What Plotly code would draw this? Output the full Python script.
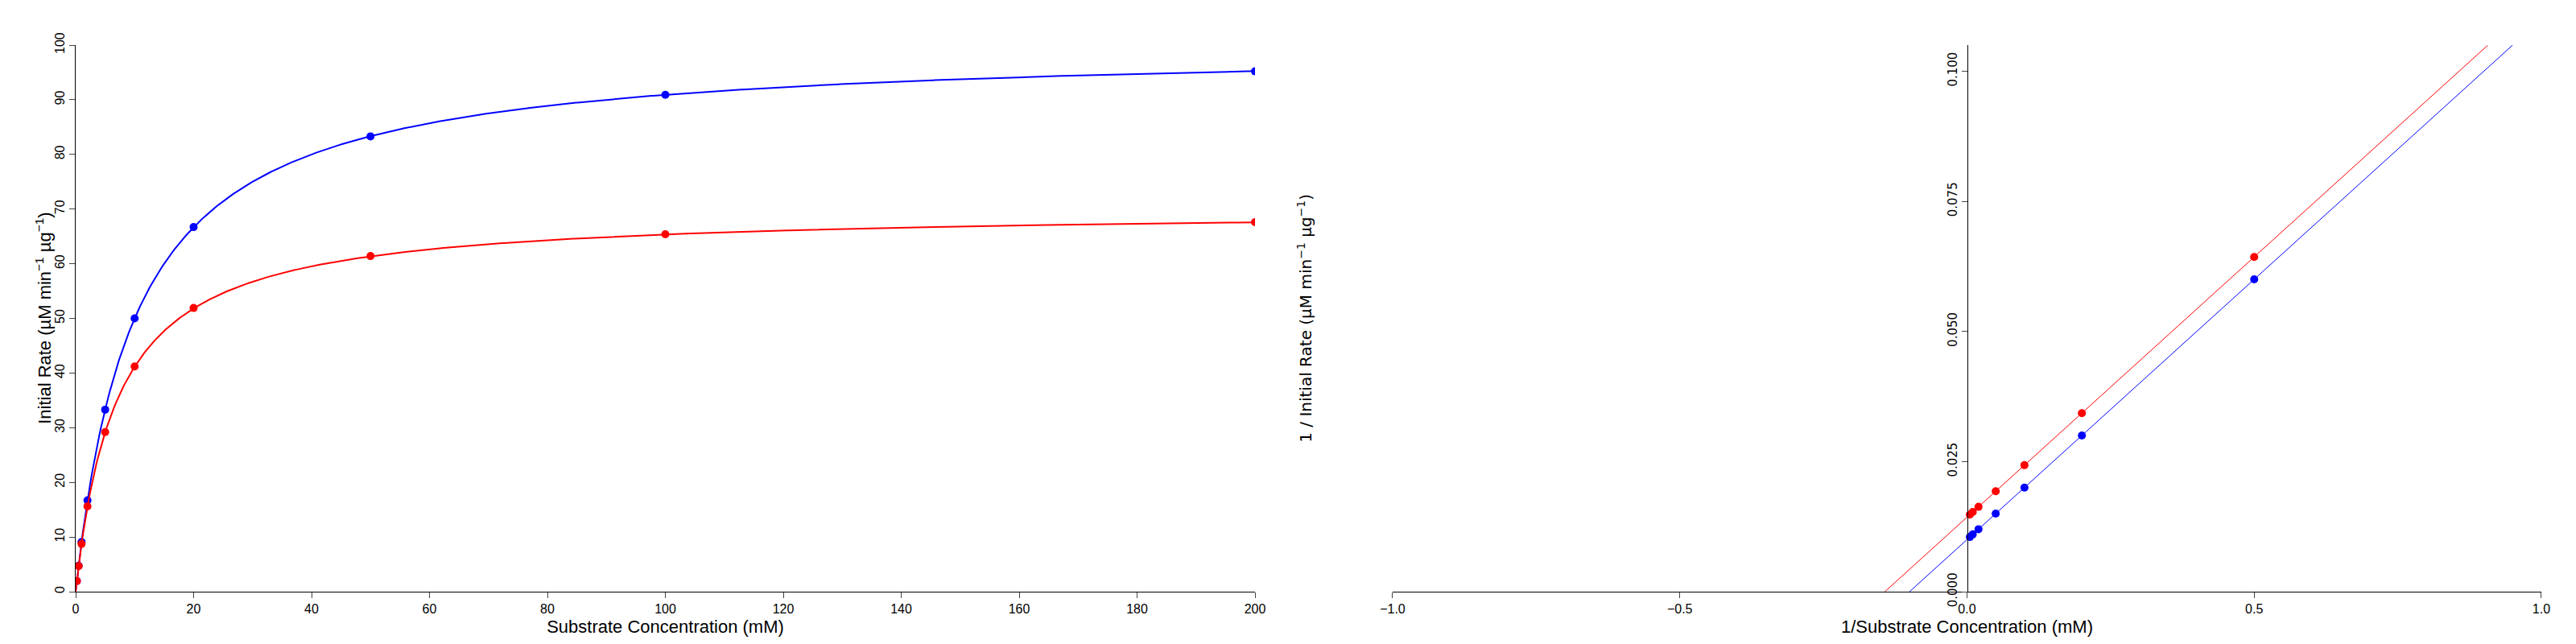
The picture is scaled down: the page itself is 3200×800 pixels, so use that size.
import numpy as np
import plotly.graph_objects as go

# Data
substrate = [0.2, 0.5, 1, 2, 5, 10, 20, 50, 100, 200]          # mM
rate_blue = [1.96, 4.76, 9.09, 16.7, 33.3, 50.0, 66.7, 83.3, 90.9, 95.2]
rate_red = [1.94, 4.67, 8.75, 15.6, 29.2, 41.2, 51.9, 61.4, 65.4, 67.6]

# reciprocal plot only shows points with 1/S <= 1
recip_s = [0.5, 0.2, 0.1, 0.05, 0.02, 0.01, 0.005]
recip_blue = [0.0600, 0.0300, 0.0200, 0.0150, 0.0120, 0.0110, 0.0105]
recip_red = [0.0643, 0.0343, 0.0243, 0.0193, 0.0163, 0.0153, 0.0148]

BLUE = "#0000ff"
RED = "#ff0000"
FONT = "Liberation Sans"

fig = go.Figure()

# Lineweaver-Burk fits -> Michaelis-Menten curves
s_curve = np.linspace(0, 200, 800)
y2_top = 0.105
for recip_v, rate, col in [(recip_blue, rate_blue, BLUE), (recip_red, rate_red, RED)]:
    m, b = np.polyfit(recip_s, recip_v, 1)
    vmax, km = 1 / b, m / b
    fig.add_trace(go.Scatter(x=s_curve, y=vmax * s_curve / (km + s_curve), mode="lines",
                             line=dict(color=col, width=2), xaxis="x", yaxis="y"))
    fig.add_trace(go.Scatter(x=substrate, y=rate, mode="markers",
                             marker=dict(color=col, size=10), xaxis="x", yaxis="y"))
    xl = np.array([-b / m, (y2_top - b) / m])
    fig.add_trace(go.Scatter(x=xl, y=m * xl + b, mode="lines",
                             line=dict(color=col, width=1), xaxis="x2", yaxis="y2"))
    fig.add_trace(go.Scatter(x=recip_s, y=recip_v, mode="markers",
                             marker=dict(color=col, size=10), xaxis="x2", yaxis="y2"))

tickfont = dict(family=FONT, size=16, color="black")
fig.update_layout(
    width=3200, height=800,
    paper_bgcolor="white", plot_bgcolor="white",
    showlegend=False,
    font=dict(family=FONT, color="black"),
    margin=dict(l=86, r=51, t=48, b=73),
    xaxis=dict(domain=[0, 0.4783], range=[0, 200], dtick=20, showgrid=False, zeroline=False,
               showline=True, linecolor="black", ticks="outside", ticklen=7, tickfont=tickfont,
               title=dict(text="Substrate Concentration (mM)",
                          font=dict(family=FONT, size=22, color="black"), standoff=6)),
    yaxis=dict(range=[0, 100], dtick=10, showgrid=False, zeroline=False, showline=True,
               linecolor="black", ticks="outside", ticklen=7, tickangle=-90, tickfont=tickfont),
    xaxis2=dict(domain=[0.5341, 1.0], range=[-1, 1], dtick=0.5, tickformat=".1f", anchor="y2",
                showgrid=False, zeroline=False, showline=True, linecolor="black", ticks="outside",
                ticklen=7, tickfont=dict(family=FONT, size=16, color="black"),
                title=dict(text="1/Substrate Concentration (mM)",
                           font=dict(family=FONT, size=22, color="black"), standoff=6)),
    yaxis2=dict(range=[0, y2_top], tickvals=[0, 0.025, 0.05, 0.075, 0.1], tickformat=".3f",
                anchor="free", position=0.7671,
                showgrid=False, zeroline=False, showline=True, linecolor="black", ticks="outside",
                ticklen=7, tickangle=-90, tickfont=dict(family="DejaVu Sans", size=15, color="black")),
)

fig.add_annotation(text="Initial Rate (µM min<sup>−1</sup> µg<sup>−1</sup>)", textangle=-90,
                   xref="paper", yref="paper", x=-0.0185, y=0.5, showarrow=False,
                   font=dict(family=FONT, size=22, color="black"))
fig.add_annotation(text="1 / Initial Rate (µM min<sup>−1</sup> µg<sup>−1</sup>)", textangle=-90,
                   xref="paper", yref="paper", x=0.4983, y=0.5, showarrow=False,
                   font=dict(family="DejaVu Sans", size=20, color="black"))

fig.write_html("out.html")
